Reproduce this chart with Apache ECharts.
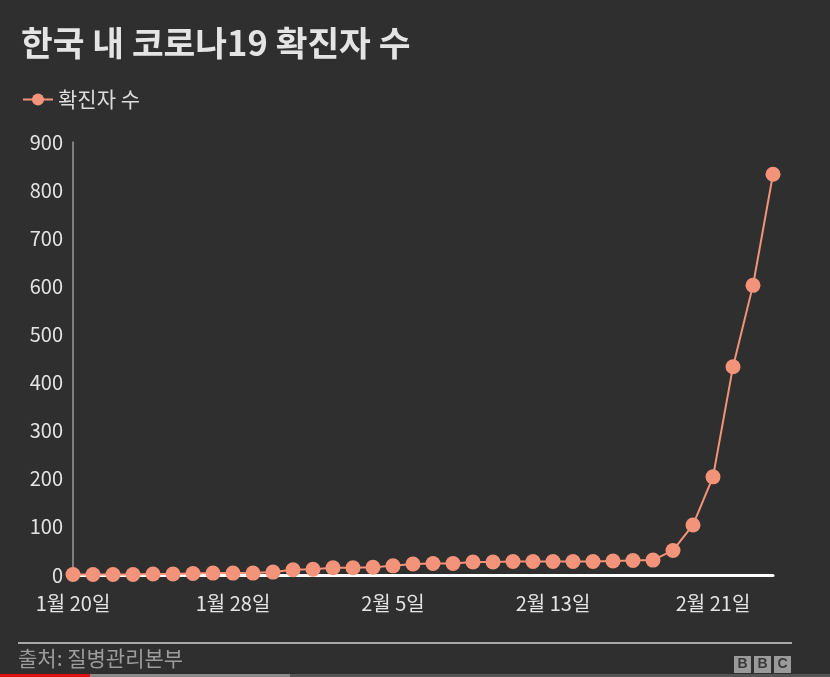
<!DOCTYPE html>
<html>
<head>
<meta charset="utf-8">
<script src="https://cdn.jsdelivr.net/npm/echarts@6/dist/echarts.min.js"></script>
<style>
html,body{margin:0;padding:0;background:#2f2f2f;}
#c{width:830px;height:677px;}
</style>
</head>
<body>
<div id="c"></div>
<script>
const categories = ['1월 20일','1월 21일','1월 22일','1월 23일','1월 24일','1월 25일','1월 26일','1월 27일','1월 28일','1월 29일','1월 30일','1월 31일',
'2월 1일','2월 2일','2월 3일','2월 4일','2월 5일','2월 6일','2월 7일','2월 8일','2월 9일','2월 10일','2월 11일','2월 12일','2월 13일','2월 14일','2월 15일','2월 16일','2월 17일','2월 18일','2월 19일','2월 20일','2월 21일','2월 22일','2월 23일','2월 24일'];
const confirmed = [1,1,1,1,2,2,3,4,4,4,6,11,12,15,15,16,19,23,24,24,27,27,28,28,28,28,28,29,30,31,51,104,204,433,602,833];
const yTicks = [0,100,200,300,400,500,600,700,800,900];

const FONT = '"Noto Sans CJK KR", "Noto Sans", sans-serif';
const chart = echarts.init(document.getElementById('c'));
chart.setOption({
  backgroundColor: '#2f2f2f',
  animation: false,
  title: {
    text: '한국 내 코로나19 확진자 수',
    left: 16, top: 21,
    textStyle: {color: '#e4e4e4', fontSize: 34.5, fontWeight: 'bold', fontFamily: FONT}
  },
  legend: {
    left: 17, top: 84,
    itemWidth: 30, itemHeight: 15, itemGap: 8,
    textStyle: {color: '#dcdcdc', fontSize: 21, fontFamily: FONT},
    data: ['확진자 수']
  },
  grid: {left: 73, right: 57, top: 142, bottom: 102, containLabel: false},
  xAxis: {
    type: 'category',
    data: categories,
    boundaryGap: false,
    axisLine: {lineStyle: {color: '#ffffff', width: 3}},
    axisTick: {show: false},
    axisLabel: {interval: 7, color: '#e4e4e4', fontSize: 20, fontFamily: FONT, margin: 18}
  },
  yAxis: {
    type: 'value',
    min: yTicks[0], max: yTicks[yTicks.length-1], interval: 100,
    axisLine: {show: true, lineStyle: {color: '#9a9a9a', width: 1.5}},
    axisTick: {show: false},
    splitLine: {show: false},
    axisLabel: {color: '#e4e4e4', fontSize: 20, fontFamily: FONT, margin: 10}
  },
  series: [{
    name: '확진자 수',
    type: 'line',
    data: confirmed,
    symbol: 'circle',
    symbolSize: 15,
    showAllSymbol: true,
    itemStyle: {color: '#f3937a'},
    lineStyle: {color: '#f3937a', width: 2}
  }],
  graphic: [
    {type: 'rect', shape: {x: 18, y: 642, width: 774, height: 2}, style: {fill: '#a8a8a8'}},
    {type: 'text', left: 18, top: 648, style: {text: '출처: 질병관리본부', fill: '#9c9c9c', fontSize: 21, fontFamily: FONT}},
    {type: 'rect', shape: {x: 734, y: 656, width: 17, height: 17}, style: {fill: '#9a9a9a'}},
    {type: 'rect', shape: {x: 754, y: 656, width: 17, height: 17}, style: {fill: '#9a9a9a'}},
    {type: 'rect', shape: {x: 774, y: 656, width: 17, height: 17}, style: {fill: '#9a9a9a'}},
    {type: 'text', x: 742.5, y: 664.5, style: {text: 'B', fill: '#3a3a3a', fontSize: 14, fontWeight: 'bold', fontFamily: 'Liberation Sans', align: 'center', verticalAlign: 'middle'}},
    {type: 'text', x: 762.5, y: 664.5, style: {text: 'B', fill: '#3a3a3a', fontSize: 14, fontWeight: 'bold', fontFamily: 'Liberation Sans', align: 'center', verticalAlign: 'middle'}},
    {type: 'text', x: 782.5, y: 664.5, style: {text: 'C', fill: '#3a3a3a', fontSize: 14, fontWeight: 'bold', fontFamily: 'Liberation Sans', align: 'center', verticalAlign: 'middle'}},
    {type: 'rect', shape: {x: 0, y: 674, width: 830, height: 3}, style: {fill: '#555555'}},
    {type: 'rect', shape: {x: 0, y: 674, width: 290, height: 3}, style: {fill: '#8a8a8a'}},
    {type: 'rect', shape: {x: 0, y: 674, width: 90, height: 3}, style: {fill: '#e01010'}}
  ]
});
</script>
</body>
</html>
